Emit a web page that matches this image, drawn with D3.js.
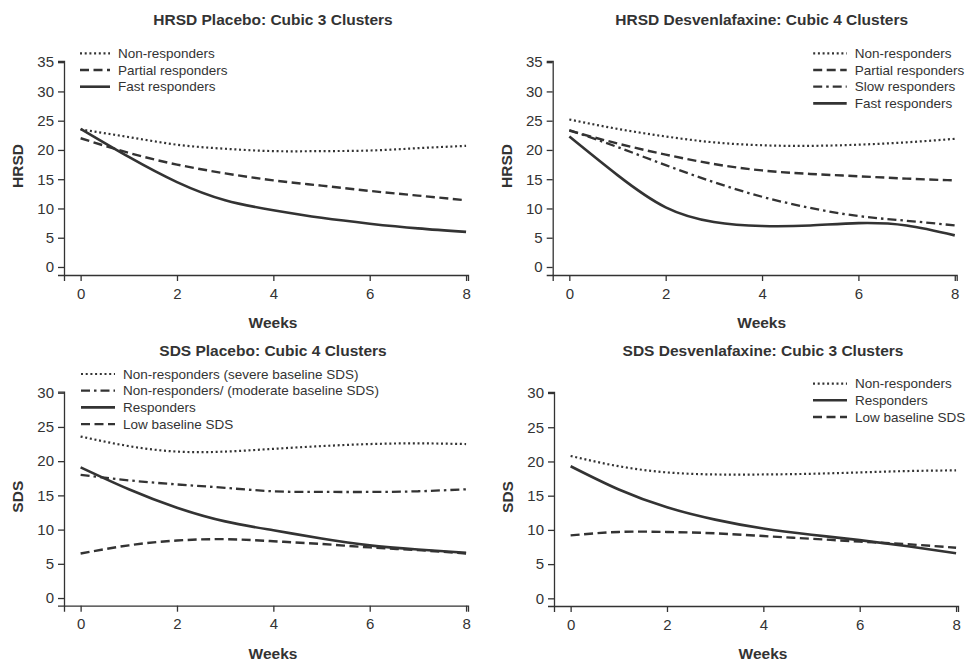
<!DOCTYPE html>
<html>
<head>
<meta charset="utf-8">
<script src="https://cdn.jsdelivr.net/npm/d3@7"></script>
<style>
  body { margin: 0; background: #fff; }
  text { font-family: "Liberation Sans", Arial, sans-serif; fill: #333; }
</style>
</head>
<body>
<div class="container"></div>
<script>
// datos
const weeks = [0, 1, 2, 3, 4, 5, 6, 7, 8]
const xTicks = [0, 2, 4, 6, 8]
const hrsdTicks = [0, 5, 10, 15, 20, 25, 30, 35]
const sdsTicks = [0, 5, 10, 15, 20, 25, 30]

// HRSD placebo
const hpNon = [23.5, 22.2, 20.9, 20.2, 19.8, 19.8, 19.9, 20.3, 20.7]
const hpPartial = [22.0, 19.5, 17.5, 16.0, 14.8, 13.9, 13.0, 12.2, 11.4]
const hpFast = [23.6, 18.8, 14.5, 11.4, 9.7, 8.4, 7.4, 6.6, 6.0]

// HRSD desvenlafaxine
const hdNon = [25.2, 23.6, 22.3, 21.3, 20.8, 20.7, 20.9, 21.3, 21.9]
const hdPartial = [23.3, 21.1, 19.2, 17.6, 16.5, 15.9, 15.5, 15.1, 14.8]
const hdSlow = [23.4, 20.5, 17.4, 14.5, 12.0, 10.1, 8.7, 7.9, 7.1]
const hdFast = [22.3, 15.7, 10.2, 7.7, 7.0, 7.1, 7.5, 7.1, 5.4]

// SDS placebo
const spSevere = [23.6, 22.2, 21.4, 21.4, 21.8, 22.2, 22.5, 22.6, 22.5]
const spModerate = [18.0, 17.2, 16.6, 16.1, 15.6, 15.5, 15.5, 15.6, 15.9]
const spResp = [19.1, 15.9, 13.2, 11.2, 9.9, 8.7, 7.7, 7.1, 6.6]
const spLow = [6.5, 7.7, 8.4, 8.6, 8.3, 7.9, 7.4, 7.0, 6.5]

// SDS desvenlafaxine
const sdNon = [20.8, 19.3, 18.4, 18.1, 18.1, 18.2, 18.4, 18.6, 18.7]
const sdResp = [19.3, 15.9, 13.3, 11.5, 10.2, 9.3, 8.5, 7.6, 6.6]
const sdLow = [9.2, 9.7, 9.7, 9.5, 9.1, 8.7, 8.3, 7.9, 7.4]

const estilos = {
    dotted: { dash: "2,2.7", width: 2.2 },
    dashed: { dash: "9,4.5", width: 2.4 },
    dashdot: { dash: "9,4,2.5,4", width: 2.3 },
    solid: { dash: null, width: 2.6 }
}

const paneles = [
    { titulo: "HRSD Placebo: Cubic 3 Clusters", yLabel: "HRSD", ox: 64, oy: 61,
      yDom: [-1.37, 35.2], ticks: hrsdTicks, leg: { x: 16, len: 30, y: -7.7 },
      series: [["Non-responders", hpNon, "dotted"], ["Partial responders", hpPartial, "dashed"], ["Fast responders", hpFast, "solid"]] },
    { titulo: "HRSD Desvenlafaxine: Cubic 4 Clusters", yLabel: "HRSD", ox: 552.7, oy: 61,
      yDom: [-1.37, 35.2], ticks: hrsdTicks, leg: { x: 260.5, len: 33.5, y: -7.7 },
      series: [["Non-responders", hdNon, "dotted"], ["Partial responders", hdPartial, "dashed"], ["Slow responders", hdSlow, "dashdot"], ["Fast responders", hdFast, "solid"]] },
    { titulo: "SDS Placebo: Cubic 4 Clusters", yLabel: "SDS", ox: 64, oy: 391.7,
      yDom: [-1.12, 30.15], ticks: sdsTicks, leg: { x: 17, len: 34, y: -17.7 },
      series: [["Non-responders (severe baseline SDS)", spSevere, "dotted"], ["Non-responders/ (moderate baseline SDS)", spModerate, "dashdot"], ["Responders", spResp, "solid"], ["Low baseline SDS", spLow, "dashed"]] },
    { titulo: "SDS Desvenlafaxine: Cubic 3 Clusters", yLabel: "SDS", ox: 554, oy: 392,
      yDom: [-1.12, 30.15], ticks: sdsTicks, leg: { x: 259, len: 34, y: -8.4 },
      series: [["Non-responders", sdNon, "dotted"], ["Responders", sdResp, "solid"], ["Low baseline SDS", sdLow, "dashed"]] }
]

const WIDTH = 969, HEIGHT = 661
const W = 404, H = 214

const svg = d3.select(".container")
    .append("svg")
    .attr("width", WIDTH)
    .attr("height", HEIGHT)

paneles.forEach((p) => {
    const g = svg.append("g")
        .attr("transform", `translate(${p.ox} ${p.oy})`)

    const x = d3.scaleLinear().domain([-0.345, 8.04]).range([0, W])
    const y = d3.scaleLinear().domain(p.yDom).range([H, 0])

    const ejeX = g.append("g")
        .attr("transform", `translate(0 ${H})`)
        .call(d3.axisBottom(x).tickValues(xTicks).tickSizeOuter(0).tickSize(6).tickPadding(7))
    const ejeY = g.append("g")
        .call(d3.axisLeft(y).tickValues(p.ticks).tickSizeOuter(0).tickSize(6).tickPadding(4))

    ;[ejeX, ejeY].forEach((e) => {
        e.selectAll("path, line").attr("stroke", "#333").attr("stroke-width", 1.3)
        e.selectAll("text")
            .style("font-family", "'Liberation Sans', Arial, sans-serif")
            .style("font-size", "15px")
            .attr("fill", "#333")
    })

    const linea = d3.line()
        .x((d, i) => x(weeks[i]))
        .y((d) => y(d))
        .curve(d3.curveNatural)

    g.selectAll(".serie")
        .data(p.series)
        .join("path")
        .attr("class", "serie")
        .attr("d", (d) => linea(d[1]))
        .attr("fill", "none")
        .attr("stroke", "#333")
        .attr("stroke-width", (d) => estilos[d[2]].width)
        .attr("stroke-dasharray", (d) => estilos[d[2]].dash)

    // leyenda
    const leyenda = g.append("g")
        .attr("transform", `translate(${p.leg.x} ${p.leg.y})`)

    leyenda.selectAll("line")
        .data(p.series)
        .join("line")
        .attr("x1", 0)
        .attr("x2", p.leg.len)
        .attr("y1", (_, i) => i * 16.7)
        .attr("y2", (_, i) => i * 16.7)
        .attr("stroke", "#333")
        .attr("stroke-width", (d) => estilos[d[2]].width)
        .attr("stroke-dasharray", (d) => estilos[d[2]].dash)

    leyenda.selectAll("text")
        .data(p.series)
        .join("text")
        .attr("x", p.leg.len + 8)
        .attr("y", (_, i) => i * 16.7)
        .attr("dy", "0.35em")
        .style("font-size", "13.5px")
        .text((d) => d[0])

    g.append("text")
        .attr("x", 209)
        .attr("y", -36)
        .attr("text-anchor", "middle")
        .style("font-size", "15.5px")
        .style("font-weight", "bold")
        .text(p.titulo)

    g.append("text")
        .attr("x", 209)
        .attr("y", 267)
        .attr("text-anchor", "middle")
        .style("font-size", "15.5px")
        .style("font-weight", "bold")
        .text("Weeks")

    g.append("text")
        .attr("transform", `translate(-41 ${H / 2 - 2}) rotate(-90)`)
        .attr("text-anchor", "middle")
        .style("font-size", "15.5px")
        .style("font-weight", "bold")
        .text(p.yLabel)
})
</script>
</body>
</html>
